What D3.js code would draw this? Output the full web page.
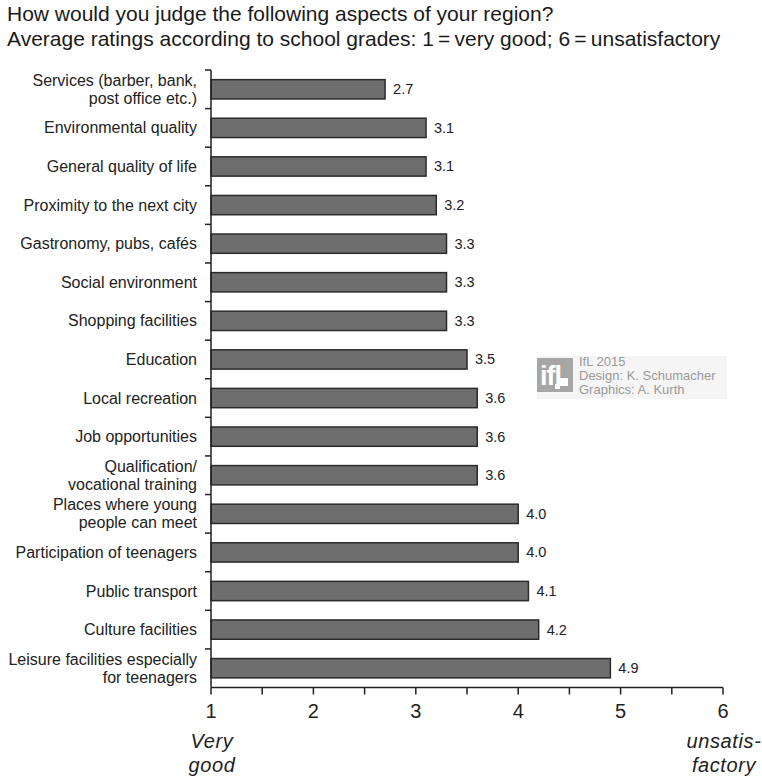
<!DOCTYPE html>
<html>
<head>
<meta charset="utf-8">
<script src="https://cdn.jsdelivr.net/npm/d3@7"></script>
<style>
  body { margin: 0; background: #fff; }
  text { font-family: "Liberation Sans", Arial, Helvetica, sans-serif; }
</style>
</head>
<body>
<svg id="draw"></svg>
<script>
// aspects of the region, top to bottom; "\n" splits a label over two lines
const aspects = [
  "Services (barber, bank,\npost office etc.)",
  "Environmental quality",
  "General quality of life",
  "Proximity to the next city",
  "Gastronomy, pubs, cafés",
  "Social environment",
  "Shopping facilities",
  "Education",
  "Local recreation",
  "Job opportunities",
  "Qualification/\nvocational training",
  "Places where young\npeople can meet",
  "Participation of teenagers",
  "Public transport",
  "Culture facilities",
  "Leisure facilities especially\nfor teenagers"
];
const ratings = [2.7, 3.1, 3.1, 3.2, 3.3, 3.3, 3.3, 3.5, 3.6, 3.6, 3.6, 4.0, 4.0, 4.1, 4.2, 4.9];
const gradeTicks = [1, 1.5, 2, 2.5, 3, 3.5, 4, 4.5, 5, 5.5, 6];
const gradeLabels = [1, 2, 3, 4, 5, 6];
const titleLines = [
  "How would you judge the following aspects of your region?",
  "Average ratings according to school grades: 1\u2009=\u2009very good; 6\u2009=\u2009unsatisfactory"
];
const creditLines = ["IfL 2015", "Design: K. Schumacher", "Graphics: A. Kurth"];

const width = 762, height = 778;
const plotLeft = 211, plotRight = 723, plotTop = 70, plotBottom = 687.5;

const svg = d3.select("#draw").attr("width", width).attr("height", height);

// title
svg.selectAll(".title")
  .data(titleLines)
  .enter().append("text")
  .attr("class", "title")
  .attr("x", 7)
  .attr("y", (d, i) => 21 + i * 25)
  .attr("font-size", 21)
  .attr("fill", "#1a1a1a")
  .text(d => d);

const x = d3.scaleLinear().domain([1, 6]).range([plotLeft, plotRight]);
const y = d3.scaleBand().domain(aspects).range([plotTop, plotBottom]).paddingInner(0.5).paddingOuter(0.25);
const step = y.step();

// credit block
const credit = svg.append("g").attr("transform", "translate(537,356)");
credit.append("rect").attr("width", 190).attr("height", 43).attr("fill", "#f5f5f5");
credit.append("rect").attr("width", 36).attr("height", 34).attr("y", 2).attr("fill", "#a6a6a6");
credit.append("text")
  .attr("x", 3).attr("y", 29)
  .attr("font-size", 27).attr("font-weight", "bold").attr("fill", "#fff")
  .attr("letter-spacing", -1)
  .text("ifl");
credit.append("rect").attr("x", 23).attr("y", 22).attr("width", 8).attr("height", 8).attr("fill", "#fff");
credit.append("rect").attr("x", 18).attr("y", 28).attr("width", 5).attr("height", 5).attr("fill", "#fff");
credit.selectAll(".credit")
  .data(creditLines)
  .enter().append("text")
  .attr("class", "credit")
  .attr("x", 42)
  .attr("y", (d, i) => 10 + i * 14)
  .attr("font-size", 13)
  .attr("fill", "#9a9a9a")
  .text(d => d);

// bars
svg.selectAll(".bar")
  .data(ratings)
  .enter().append("rect")
  .attr("class", "bar")
  .attr("x", x(1))
  .attr("y", (d, i) => y(aspects[i]))
  .attr("width", d => x(d) - x(1))
  .attr("height", y.bandwidth())
  .attr("fill", "#6e6e6e")
  .attr("stroke", "#2b2b2b")
  .attr("stroke-width", 1.5);

// value labels
svg.selectAll(".value")
  .data(ratings)
  .enter().append("text")
  .attr("class", "value")
  .attr("x", d => x(d) + 8)
  .attr("y", (d, i) => y(aspects[i]) + y.bandwidth() / 2 + 5)
  .attr("font-size", 14.5)
  .attr("fill", "#222")
  .text(d => d.toFixed(1));

// category labels
const cat = svg.selectAll(".cat")
  .data(aspects)
  .enter().append("text")
  .attr("class", "cat")
  .attr("text-anchor", "end")
  .attr("font-size", 16)
  .attr("fill", "#222");
cat.each(function(d) {
  const lines = d.split("\n");
  const cy = y(d) + y.bandwidth() / 2;
  d3.select(this).selectAll("tspan")
    .data(lines)
    .enter().append("tspan")
    .attr("x", 197)
    .attr("y", (l, i) => cy + 5.5 + (i - (lines.length - 1) / 2) * 18)
    .text(l => l);
});

// y axis line with band separators
const axisColor = "#222";
svg.append("line")
  .attr("x1", plotLeft).attr("x2", plotLeft)
  .attr("y1", plotTop).attr("y2", plotBottom)
  .attr("stroke", axisColor).attr("stroke-width", 1.5);
svg.selectAll(".ysep")
  .data(d3.range(aspects.length))
  .enter().append("line")
  .attr("class", "ysep")
  .attr("x1", plotLeft - 6).attr("x2", plotLeft)
  .attr("y1", i => plotTop + i * step).attr("y2", i => plotTop + i * step)
  .attr("stroke", axisColor).attr("stroke-width", 1.5);

// x axis
svg.append("line")
  .attr("x1", plotLeft).attr("x2", plotRight)
  .attr("y1", plotBottom).attr("y2", plotBottom)
  .attr("stroke", axisColor).attr("stroke-width", 1.5);
svg.selectAll(".xtick")
  .data(gradeTicks)
  .enter().append("line")
  .attr("class", "xtick")
  .attr("x1", d => x(d)).attr("x2", d => x(d))
  .attr("y1", plotBottom).attr("y2", plotBottom + 7)
  .attr("stroke", axisColor).attr("stroke-width", 1.5);
svg.selectAll(".xlabel")
  .data(gradeLabels)
  .enter().append("text")
  .attr("class", "xlabel")
  .attr("x", d => x(d))
  .attr("y", 718)
  .attr("text-anchor", "middle")
  .attr("font-size", 20)
  .attr("fill", "#222")
  .text(d => d);

// scale end descriptions
const ends = [
  { v: 1, lines: ["Very", "good"] },
  { v: 6, lines: ["unsatis-", "factory"] }
];
ends.forEach(e => {
  svg.append("text")
    .attr("text-anchor", "middle")
    .attr("font-size", 20)
    .attr("font-style", "italic")
    .attr("letter-spacing", 0.6)
    .attr("fill", "#222")
    .selectAll("tspan")
    .data(e.lines)
    .enter().append("tspan")
    .attr("x", x(e.v) + 1)
    .attr("y", (l, i) => 748 + i * 24)
    .text(l => l);
});
</script>
</body>
</html>
